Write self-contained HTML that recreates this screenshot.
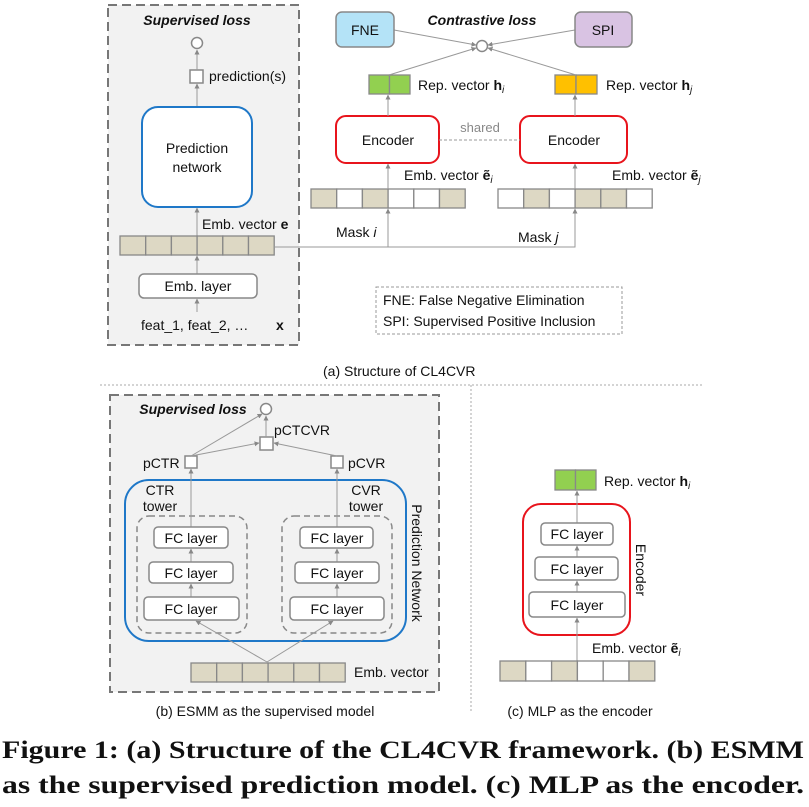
<!DOCTYPE html>
<html><head><meta charset="utf-8"><style>
html,body{margin:0;padding:0;background:#fff;}
svg{display:block;}
text{font-family:"Liberation Sans",sans-serif;fill:#111;}
</style></head><body>
<svg width="809" height="807" viewBox="0 0 809 807" xmlns="http://www.w3.org/2000/svg">
<defs>
<marker id="a" viewBox="0 0 10 10" refX="9" refY="5" markerWidth="5" markerHeight="5" orient="auto"><path d="M0,0L10,5L0,10z" fill="#888"/></marker>
</defs>
<g font-size="13">
<!-- (a) left box -->
<rect x="108" y="5" width="191" height="340" fill="#f2f2f2" stroke="#777" stroke-width="2" stroke-dasharray="9,5"/>
<text x="197" y="25" text-anchor="middle" font-weight="bold" font-style="italic" font-size="14">Supervised loss</text>
<circle cx="197" cy="43" r="5.5" fill="#fff" stroke="#888" stroke-width="1.5"/>
<rect x="190" y="70" width="13" height="13" fill="#fff" stroke="#888" stroke-width="1.5"/>
<text x="209" y="81" font-size="14">prediction(s)</text>
<line x1="197" y1="70" x2="197" y2="50" stroke="#999" marker-end="url(#a)"/>
<line x1="197" y1="107" x2="197" y2="84" stroke="#999" marker-end="url(#a)"/>
<rect x="142" y="107" width="110" height="100" rx="16" fill="#fff" stroke="#1f78c8" stroke-width="2"/>
<text x="197" y="153" text-anchor="middle" font-size="14">Prediction</text>
<text x="197" y="172" text-anchor="middle" font-size="14">network</text>
<line x1="197" y1="236" x2="197" y2="208" stroke="#999" marker-end="url(#a)"/>
<text x="202" y="229" font-size="14">Emb. vector <tspan font-weight="bold">e</tspan></text>
<g fill="#ddd8c4" stroke="#888" stroke-width="1.3">
<rect x="120" y="236" width="25.7" height="19"/><rect x="145.7" y="236" width="25.7" height="19"/><rect x="171.4" y="236" width="25.7" height="19"/><rect x="197.1" y="236" width="25.7" height="19"/><rect x="222.8" y="236" width="25.7" height="19"/><rect x="248.5" y="236" width="25.7" height="19"/>
</g>
<line x1="197" y1="274" x2="197" y2="256" stroke="#999" marker-end="url(#a)"/>
<rect x="139" y="274" width="118" height="24" rx="5" fill="#fff" stroke="#888" stroke-width="1.5"/>
<text x="198" y="291" text-anchor="middle" font-size="14">Emb. layer</text>
<line x1="197" y1="312" x2="197" y2="299" stroke="#999" marker-end="url(#a)"/>
<text x="141" y="330" font-size="14">feat_1, feat_2, …</text>
<text x="276" y="330" font-size="14" font-weight="bold">x</text>
<!-- mask lines -->
<polyline points="274,247 575,247 575,209" fill="none" stroke="#999" marker-end="url(#a)"/>
<line x1="388" y1="247" x2="388" y2="209" stroke="#999" marker-end="url(#a)"/>
<text x="336" y="237" font-size="14">Mask <tspan font-style="italic">i</tspan></text>
<text x="518" y="242" font-size="14">Mask <tspan font-style="italic">j</tspan></text>
<g stroke="#888" stroke-width="1.3">
<rect x="311" y="189" width="25.7" height="19" fill="#ddd8c4"/><rect x="336.7" y="189" width="25.7" height="19" fill="#fff"/><rect x="362.4" y="189" width="25.7" height="19" fill="#ddd8c4"/><rect x="388.1" y="189" width="25.7" height="19" fill="#fff"/><rect x="413.8" y="189" width="25.7" height="19" fill="#fff"/><rect x="439.5" y="189" width="25.7" height="19" fill="#ddd8c4"/>
<rect x="498" y="189" width="25.7" height="19" fill="#fff"/><rect x="523.7" y="189" width="25.7" height="19" fill="#ddd8c4"/><rect x="549.4" y="189" width="25.7" height="19" fill="#fff"/><rect x="575.1" y="189" width="25.7" height="19" fill="#ddd8c4"/><rect x="600.8" y="189" width="25.7" height="19" fill="#ddd8c4"/><rect x="626.5" y="189" width="25.7" height="19" fill="#fff"/>
</g>
<line x1="388" y1="189" x2="388" y2="164" stroke="#999" marker-end="url(#a)"/>
<line x1="575" y1="189" x2="575" y2="164" stroke="#999" marker-end="url(#a)"/>
<text x="404" y="180" font-size="14">Emb. vector <tspan font-weight="bold">ẽ</tspan><tspan font-size="10" font-style="italic" dy="3">i</tspan></text>
<text x="612" y="180" font-size="14">Emb. vector <tspan font-weight="bold">ẽ</tspan><tspan font-size="10" font-style="italic" dy="3">j</tspan></text>
<rect x="336" y="116" width="103" height="47" rx="10" fill="#fff" stroke="#e8141c" stroke-width="2"/>
<text x="388" y="145" text-anchor="middle" font-size="14">Encoder</text>
<rect x="520" y="116" width="107" height="47" rx="10" fill="#fff" stroke="#e8141c" stroke-width="2"/>
<text x="574" y="145" text-anchor="middle" font-size="14">Encoder</text>
<line x1="439" y1="140" x2="520" y2="140" stroke="#999" stroke-dasharray="3,2"/>
<text x="480" y="132" text-anchor="middle" font-size="13" fill="#888" style="fill:#888">shared</text>
<line x1="388" y1="116" x2="388" y2="95" stroke="#999" marker-end="url(#a)"/>
<line x1="575" y1="116" x2="575" y2="95" stroke="#999" marker-end="url(#a)"/>
<g stroke="#888" stroke-width="1.3">
<rect x="369" y="75" width="20.5" height="19" fill="#92d050"/><rect x="389.5" y="75" width="20.5" height="19" fill="#92d050"/>
<rect x="555" y="75" width="21" height="19" fill="#ffc000"/><rect x="576" y="75" width="21" height="19" fill="#ffc000"/>
</g>
<text x="418" y="90" font-size="14">Rep. vector <tspan font-weight="bold">h</tspan><tspan font-size="10" font-style="italic" dy="3">i</tspan></text>
<text x="606" y="90" font-size="14">Rep. vector <tspan font-weight="bold">h</tspan><tspan font-size="10" font-style="italic" dy="3">j</tspan></text>
<line x1="389" y1="75" x2="476" y2="48" stroke="#999" marker-end="url(#a)"/>
<line x1="576" y1="75" x2="488" y2="48" stroke="#999" marker-end="url(#a)"/>
<line x1="394" y1="30" x2="476" y2="45" stroke="#999" marker-end="url(#a)"/>
<line x1="575" y1="30" x2="488" y2="45" stroke="#999" marker-end="url(#a)"/>
<circle cx="482" cy="46" r="5.5" fill="#fff" stroke="#888" stroke-width="1.5"/>
<text x="482" y="25" text-anchor="middle" font-weight="bold" font-style="italic" font-size="14">Contrastive loss</text>
<rect x="336" y="12" width="58" height="35" rx="6" fill="#b4e3f7" stroke="#888" stroke-width="1.5"/>
<text x="365" y="35" text-anchor="middle" font-size="14">FNE</text>
<rect x="575" y="12" width="57" height="35" rx="6" fill="#d9c3e3" stroke="#888" stroke-width="1.5"/>
<text x="603" y="35" text-anchor="middle" font-size="14">SPI</text>
<rect x="376" y="287" width="246" height="47" fill="none" stroke="#999" stroke-dasharray="3,2"/>
<text x="383" y="305" font-size="14">FNE: False Negative Elimination</text>
<text x="383" y="326" font-size="14">SPI: Supervised Positive Inclusion</text>
<text x="323" y="376" font-size="14">(a) Structure of CL4CVR</text>
<!-- separators -->
<line x1="100" y1="385" x2="703" y2="385" stroke="#aaa" stroke-dasharray="2,2"/>
<line x1="471" y1="385" x2="471" y2="713" stroke="#aaa" stroke-dasharray="2,2"/>
<!-- (b) -->
<rect x="110" y="395" width="329" height="297" fill="#f2f2f2" stroke="#777" stroke-width="2" stroke-dasharray="9,5"/>
<text x="193" y="414" text-anchor="middle" font-weight="bold" font-style="italic" font-size="14">Supervised loss</text>
<circle cx="266" cy="409" r="5.5" fill="#fff" stroke="#888" stroke-width="1.5"/>
<rect x="260" y="437" width="13" height="13" fill="#fff" stroke="#888" stroke-width="1.5"/>
<text x="274" y="435" font-size="14">pCTCVR</text>
<rect x="185" y="456" width="12" height="12" fill="#fff" stroke="#888" stroke-width="1.5"/>
<text x="143" y="468" font-size="14">pCTR</text>
<rect x="331" y="456" width="12" height="12" fill="#fff" stroke="#888" stroke-width="1.5"/>
<text x="348" y="468" font-size="14">pCVR</text>
<line x1="191" y1="456" x2="262" y2="414" stroke="#999" marker-end="url(#a)"/>
<line x1="191" y1="456" x2="259" y2="443" stroke="#999" marker-end="url(#a)"/>
<line x1="337" y1="456" x2="274" y2="443" stroke="#999" marker-end="url(#a)"/>
<line x1="266" y1="437" x2="266" y2="416" stroke="#999" marker-end="url(#a)"/>
<rect x="125" y="480" width="281" height="161" rx="24" fill="none" stroke="#1f78c8" stroke-width="2"/>
<text transform="translate(412,563) rotate(90)" text-anchor="middle" font-size="14">Prediction Network</text>
<text x="160" y="495" text-anchor="middle" font-size="14">CTR</text>
<text x="160" y="511" text-anchor="middle" font-size="14">tower</text>
<text x="366" y="495" text-anchor="middle" font-size="14">CVR</text>
<text x="366" y="511" text-anchor="middle" font-size="14">tower</text>
<rect x="137" y="516" width="110" height="117" rx="12" fill="none" stroke="#888" stroke-width="1.5" stroke-dasharray="6,4"/>
<rect x="282" y="516" width="110" height="117" rx="12" fill="none" stroke="#888" stroke-width="1.5" stroke-dasharray="6,4"/>
<line x1="191" y1="527" x2="191" y2="469" stroke="#999" marker-end="url(#a)"/>
<line x1="337" y1="527" x2="337" y2="469" stroke="#999" marker-end="url(#a)"/>
<line x1="191" y1="562" x2="191" y2="549" stroke="#999" marker-end="url(#a)"/>
<line x1="191" y1="597" x2="191" y2="584" stroke="#999" marker-end="url(#a)"/>
<line x1="337" y1="562" x2="337" y2="549" stroke="#999" marker-end="url(#a)"/>
<line x1="337" y1="597" x2="337" y2="584" stroke="#999" marker-end="url(#a)"/>
<g fill="#fff" stroke="#888" stroke-width="1.5">
<rect x="154" y="527" width="74" height="21" rx="4"/><rect x="149" y="562" width="84" height="21" rx="4"/><rect x="144" y="597" width="95" height="23" rx="4"/>
<rect x="300" y="527" width="73" height="21" rx="4"/><rect x="295" y="562" width="84" height="21" rx="4"/><rect x="290" y="597" width="94" height="23" rx="4"/>
</g>
<g font-size="14" text-anchor="middle">
<text x="191" y="543">FC layer</text><text x="191" y="578">FC layer</text><text x="191" y="614">FC layer</text>
<text x="337" y="543">FC layer</text><text x="337" y="578">FC layer</text><text x="337" y="614">FC layer</text>
</g>
<line x1="267" y1="662" x2="196" y2="621" stroke="#999" marker-end="url(#a)"/>
<line x1="267" y1="662" x2="333" y2="621" stroke="#999" marker-end="url(#a)"/>
<g fill="#ddd8c4" stroke="#888" stroke-width="1.3">
<rect x="191" y="663" width="25.7" height="19"/><rect x="216.7" y="663" width="25.7" height="19"/><rect x="242.4" y="663" width="25.7" height="19"/><rect x="268.1" y="663" width="25.7" height="19"/><rect x="293.8" y="663" width="25.7" height="19"/><rect x="319.5" y="663" width="25.7" height="19"/>
</g>
<text x="354" y="677" font-size="14">Emb. vector</text>
<text x="265" y="716" text-anchor="middle" font-size="14">(b) ESMM as the supervised model</text>
<!-- (c) -->
<g stroke="#888" stroke-width="1.3">
<rect x="555" y="470" width="20.5" height="20" fill="#92d050"/><rect x="575.5" y="470" width="20.5" height="20" fill="#92d050"/>
</g>
<text x="604" y="486" font-size="14">Rep. vector <tspan font-weight="bold">h</tspan><tspan font-size="10" font-style="italic" dy="3">i</tspan></text>
<rect x="523" y="504" width="107" height="131" rx="18" fill="#fff" stroke="#e8141c" stroke-width="2"/>
<text transform="translate(636,570) rotate(90)" text-anchor="middle" font-size="14">Encoder</text>
<line x1="577" y1="523" x2="577" y2="491" stroke="#999" marker-end="url(#a)"/>
<line x1="577" y1="557" x2="577" y2="546" stroke="#999" marker-end="url(#a)"/>
<line x1="577" y1="592" x2="577" y2="581" stroke="#999" marker-end="url(#a)"/>
<line x1="577" y1="661" x2="577" y2="618" stroke="#999" marker-end="url(#a)"/>
<g fill="#fff" stroke="#888" stroke-width="1.5">
<rect x="541" y="523" width="72" height="22" rx="4"/><rect x="535" y="557" width="83" height="23" rx="4"/><rect x="529" y="592" width="96" height="25" rx="4"/>
</g>
<g font-size="14" text-anchor="middle">
<text x="577" y="539">FC layer</text><text x="577" y="574">FC layer</text><text x="577" y="610">FC layer</text>
</g>
<text x="592" y="653" font-size="14">Emb. vector <tspan font-weight="bold">ẽ</tspan><tspan font-size="10" font-style="italic" dy="3">i</tspan></text>
<g stroke="#888" stroke-width="1.3">
<rect x="500" y="661" width="25.8" height="20" fill="#ddd8c4"/><rect x="525.8" y="661" width="25.8" height="20" fill="#fff"/><rect x="551.6" y="661" width="25.8" height="20" fill="#ddd8c4"/><rect x="577.4" y="661" width="25.8" height="20" fill="#fff"/><rect x="603.2" y="661" width="25.8" height="20" fill="#fff"/><rect x="629" y="661" width="25.8" height="20" fill="#ddd8c4"/>
</g>
<text x="580" y="716" text-anchor="middle" font-size="14">(c) MLP as the encoder</text>
</g>
<!-- caption -->
<text x="2" y="758" font-family="Liberation Serif,serif" font-weight="bold" font-size="25" textLength="802" lengthAdjust="spacingAndGlyphs" style="font-family:'Liberation Serif',serif">Figure 1: (a) Structure of the CL4CVR framework. (b) ESMM</text>
<text x="2" y="793" font-family="Liberation Serif,serif" font-weight="bold" font-size="25" textLength="802" lengthAdjust="spacingAndGlyphs" style="font-family:'Liberation Serif',serif">as the supervised prediction model. (c) MLP as the encoder.</text>
</svg>
</body></html>
